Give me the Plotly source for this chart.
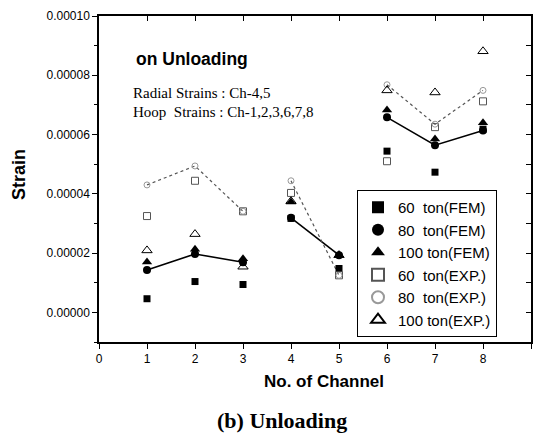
import plotly.graph_objects as go

channels = [1, 2, 3, 4, 5, 6, 7, 8]

fem60 = [0.46e-5, 1.04e-5, 0.94e-5, 3.17e-5, 1.48e-5, 5.44e-5, 4.73e-5, 6.18e-5]
fem80 = [1.43e-5, 1.97e-5, 1.69e-5, 3.19e-5, 1.93e-5, 6.58e-5, 5.64e-5, 6.14e-5]
fem100 = [1.70e-5, 2.13e-5, 1.81e-5, 3.72e-5, 1.93e-5, 6.83e-5, 5.85e-5, 6.40e-5]
exp60 = [3.25e-5, 4.44e-5, 3.41e-5, 4.03e-5, 1.25e-5, 5.10e-5, 6.25e-5, 7.12e-5]
exp80 = [4.30e-5, 4.94e-5, 3.41e-5, 4.44e-5, 1.25e-5, 7.68e-5, 6.35e-5, 7.49e-5]
exp100 = [2.09e-5, 2.64e-5, 1.54e-5, 3.75e-5, 1.93e-5, 7.49e-5, 7.42e-5, 8.81e-5]

groups = [[0, 1, 2], [3, 4], [5, 6, 7]]

x_ticks = list(range(0, 10))
y_ticks = [0, 2e-5, 4e-5, 6e-5, 8e-5, 1e-4]


def broken(xs, ys):
    bx, by = [], []
    for g in groups:
        for i in g:
            bx.append(xs[i])
            by.append(ys[i])
        bx.append(None)
        by.append(None)
    return bx, by


fig = go.Figure()

# connecting lines
lx, ly = broken(channels, fem80)
fig.add_trace(go.Scatter(x=lx, y=ly, mode="lines", line=dict(color="black", width=1.6),
                         showlegend=False, hoverinfo="skip"))
lx, ly = broken(channels, exp80)
fig.add_trace(go.Scatter(x=lx, y=ly, mode="lines", line=dict(color="#555", width=1.2, dash="dot"),
                         showlegend=False, hoverinfo="skip"))

series = [
    ("60  ton(FEM)", fem60, dict(symbol="square", size=7, color="black")),
    ("80  ton(FEM)", fem80, dict(symbol="circle", size=8, color="black")),
    ("100 ton(FEM)", fem100, dict(symbol="triangle-up", size=9, color="black")),
    ("60  ton(EXP.)", exp60, dict(symbol="square-open", size=7, color="#555", line=dict(width=1))),
    ("80  ton(EXP.)", exp80, dict(symbol="circle-open", size=6, color="#999", line=dict(width=1))),
    ("100 ton(EXP.)", exp100, dict(symbol="triangle-up-open", size=9, color="black", line=dict(width=1))),
]
for name, ys, mk in series:
    fig.add_trace(go.Scatter(x=channels, y=ys, mode="markers", name=name, marker=mk))

# invisible trace for mirrored axes
fig.add_trace(go.Scatter(x=[0], y=[0], xaxis="x2", yaxis="y2", mode="markers",
                         marker=dict(opacity=0), showlegend=False, hoverinfo="skip"))

axis_font = dict(family="Arial, Liberation Sans", size=12, color="black")


def py(pix):
    return (342 - pix) / 326.0


def px(pix):
    return (pix - 99) / 432.0


fig.update_layout(
    width=533, height=433,
    margin=dict(l=99, r=2, t=16, b=91),
    paper_bgcolor="white", plot_bgcolor="white",
    showlegend=True,
    legend=dict(x=px(357), y=py(190), xanchor="left", yanchor="top",
                bgcolor="white", bordercolor="black", borderwidth=1,
                font=dict(family="Arial, Liberation Sans", size=15, color="black"),
                tracegroupgap=0, itemsizing="constant"),
    xaxis=dict(range=[0, 9], tickvals=x_ticks, ticktext=[str(v) for v in x_ticks],
               ticks="outside", ticklen=5, tickwidth=1, tickcolor="black",
               showline=True, linecolor="black", linewidth=1.5, showgrid=False, zeroline=False,
               tickfont=axis_font),
    yaxis=dict(range=[-1e-5, 1e-4], tickvals=y_ticks, tickformat=".5f",
               ticks="outside", ticklen=5, tickwidth=1, tickcolor="black",
               minor=dict(ticks="outside", ticklen=3, dtick=1e-5, tick0=0, tickcolor="black"),
               showline=True, linecolor="black", linewidth=1.5, showgrid=False, zeroline=False,
               tickfont=axis_font),
    xaxis2=dict(range=[0, 9], overlaying="x", side="top", tickvals=x_ticks[1:-1], ticks="inside",
                ticklen=5, tickcolor="black", showticklabels=False, showline=True, linecolor="black",
                linewidth=1.5, showgrid=False, zeroline=False),
    yaxis2=dict(range=[-1e-5, 1e-4], overlaying="y", side="right", dtick=1e-5, tick0=0, ticks="inside",
                ticklen=5, tickcolor="black", showticklabels=False, showline=True, linecolor="black",
                linewidth=1.5, showgrid=False, zeroline=False),
    annotations=[
        dict(text="<b>No. of Channel</b>", xref="paper", yref="paper", x=px(324), y=py(381),
             xanchor="center", yanchor="middle", showarrow=False,
             font=dict(family="Arial, Liberation Sans", size=17, color="black")),
        dict(text="<b>Strain</b>", xref="paper", yref="paper", x=px(19), y=py(175),
             xanchor="center", yanchor="middle", showarrow=False, textangle=-90,
             font=dict(family="Arial, Liberation Sans", size=18, color="black")),
        dict(text="<b>on Unloading</b>", xref="paper", yref="paper", x=px(134), y=py(59),
             xanchor="left", yanchor="middle", showarrow=False,
             font=dict(family="Arial, Liberation Sans", size=17.5, color="black")),
        dict(text="Radial Strains : Ch-4,5", xref="paper", yref="paper", x=px(131), y=py(93),
             xanchor="left", yanchor="middle", showarrow=False,
             font=dict(family="Times New Roman, Liberation Serif", size=15, color="black")),
        dict(text="Hoop  Strains : Ch-1,2,3,6,7,8", xref="paper", yref="paper", x=px(131), y=py(112),
             xanchor="left", yanchor="middle", showarrow=False,
             font=dict(family="Times New Roman, Liberation Serif", size=15, color="black")),
        dict(text="<b>(b) Unloading</b>", xref="paper", yref="paper", x=px(282), y=py(420),
             xanchor="center", yanchor="middle", showarrow=False,
             font=dict(family="Times New Roman, Liberation Serif", size=22, color="black")),
    ],
)

fig.write_html("out.html")
